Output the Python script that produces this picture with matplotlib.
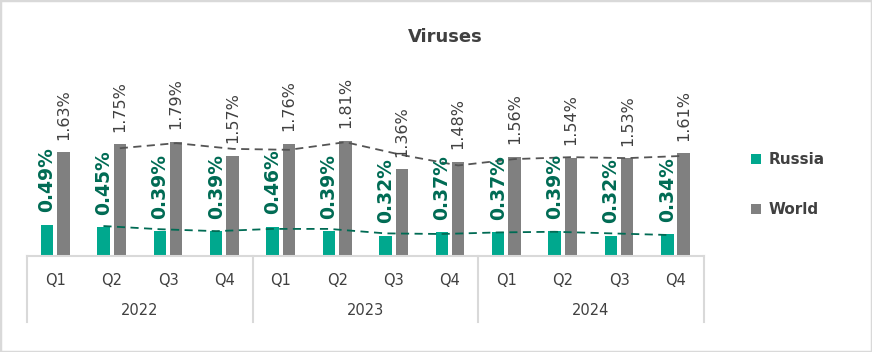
import numpy as np
import matplotlib
matplotlib.use('Agg')
from matplotlib import pyplot as plt
from matplotlib.patches import Rectangle
import matplotlib.transforms as mtransforms

quarters = ['Q1', 'Q2', 'Q3', 'Q4'] * 3
years = ['2022', '2023', '2024']
russia = [0.49, 0.45, 0.39, 0.39, 0.46, 0.39, 0.32, 0.37, 0.37, 0.39, 0.32, 0.34]
world = [1.63, 1.75, 1.79, 1.57, 1.76, 1.81, 1.36, 1.48, 1.56, 1.54, 1.53, 1.61]

teal = '#00A88E'
dark_green = '#006B54'
grey = '#808080'
text_grey = '#404040'
line_grey = '#D9D9D9'

fig = plt.figure(figsize=(8.72, 3.52), dpi=100)
ax = fig.add_axes([0.031, 0.2727, 0.776, 0.616])

x = np.arange(len(russia))
off = 0.145
w = 0.22
ax.bar(x - off, russia, w, color=teal, label='Russia', zorder=2)
ax.bar(x + off, world, w, color=grey, label='World', zorder=2)

# 2-period moving average trend lines
r_ma = [(russia[i] + russia[i - 1]) / 2 for i in range(1, len(russia))]
w_ma = [(world[i] + world[i - 1]) / 2 for i in range(1, len(world))]
ax.plot(x[1:] - off, r_ma, ls=(0, (4.5, 3)), color=dark_green, lw=1.3, zorder=3)
ax.plot(x[1:] + off, w_ma, ls=(0, (4.5, 3)), color='#555555', lw=1.3, zorder=3)

for i in range(len(x)):
    ax.annotate(f'{russia[i]:.2f}%', (x[i] - off, russia[i]), xytext=(0, 9),
                textcoords='offset points', rotation=90, ha='center', va='bottom',
                color=dark_green, fontsize=13.5, fontweight='bold')
    ax.annotate(f'{world[i]:.2f}%', (x[i] + off, world[i]), xytext=(0, 9),
                textcoords='offset points', rotation=90, ha='center', va='bottom',
                color=text_grey, fontsize=11.5)

ax.set_xlim(-0.5, 11.5)
ax.set_ylim(0, 3.4)
for s in ['top', 'right', 'left']:
    ax.spines[s].set_visible(False)
ax.spines['bottom'].set_color(line_grey)
ax.spines['bottom'].set_linewidth(1.5)
ax.set_yticks([])
ax.set_xticks(x)
ax.set_xticklabels(quarters, color=text_grey, fontsize=10.5)
ax.tick_params(axis='x', length=0, pad=12)

trans = mtransforms.blended_transform_factory(ax.transData, ax.transAxes)
for b in [-0.5, 3.5, 7.5, 11.5]:
    ax.plot([b, b], [0, -0.305], transform=trans, color=line_grey, lw=1.5, clip_on=False)
for j, yr in enumerate(years):
    ax.text(j * 4 + 1.5, -0.25, yr, transform=trans, ha='center', va='center',
            color=text_grey, fontsize=10.5)

fig.text(445 / 872, 1 - 37 / 352, 'Viruses', ha='center', va='center',
         fontsize=13, fontweight='bold', color=text_grey)

fig.legend(loc='center left', bbox_to_anchor=(0.845, 0.475), frameon=False,
           prop={'weight': 'bold', 'size': 11}, labelcolor=text_grey,
           handlelength=0.7, handleheight=0.7, handletextpad=0.5, labelspacing=2.3)

fig.patches.append(Rectangle((0, 0), 1, 1, transform=fig.transFigure, fill=False,
                             edgecolor=line_grey, lw=2.5))

fig.savefig('out.png', dpi=100)
